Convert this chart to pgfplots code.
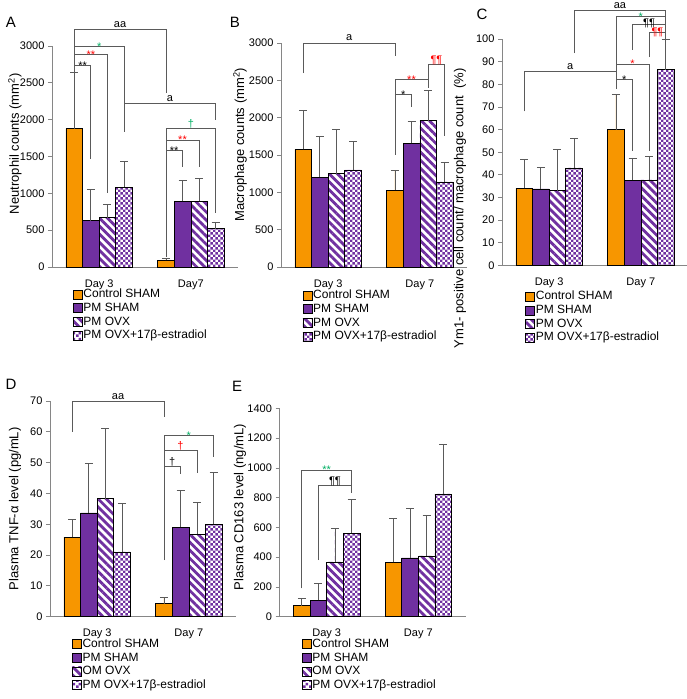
\documentclass[border=0pt]{standalone}
\usepackage{fontspec}
\setmainfont{Liberation Sans}
\usepackage{pgfplots}
\pgfplotsset{compat=1.18}
\usetikzlibrary{patterns,patterns.meta,calc}
\definecolor{orangec}{RGB}{247,150,0}
\definecolor{purplec}{RGB}{112,48,160}
\definecolor{axgray}{RGB}{134,134,134}
\definecolor{brkgray}{RGB}{90,90,90}
\definecolor{sgreen}{RGB}{0,176,100}
\definecolor{sred}{RGB}{255,0,0}
\tikzdeclarepattern{name=bigchecker, type=uncolored, bounding box={(0pt,0pt) and (5.4pt,5.4pt)}, tile size={(5.4pt,5.4pt)}, code={\fill (0pt,0pt) rectangle (2.7pt,2.7pt); \fill (2.7pt,2.7pt) rectangle (5.4pt,5.4pt);}}
\pgfplotsset{
 ybar legend/.style={/pgfplots/legend image code/.code={\draw[##1, line width=0.6pt] (0pt,-4.5pt) rectangle (9pt,4.5pt);}},
 panel/.style={
  scale only axis, width=186pt,
  xmin=0.485, xmax=2.515, ymin=0,
  axis x line*=bottom, axis y line*=left,
  axis line style={-, draw=axgray, line width=0.8pt},
  xtick={1,2}, xtick style={draw=none},
  ytick style={draw=axgray, line width=0.8pt},
  tick align=outside, major tick length=4pt,
  ybar=0pt, bar width=16.6pt,
  clip=false,
  tick label style={font=\fontsize{11}{13}\selectfont},
  /pgf/number format/assume math mode=true,
  /pgf/number format/1000 sep={},
  xticklabel style={yshift=-5pt},
  ylabel style={font=\fontsize{13}{15}\selectfont},
  legend style={draw=none, fill=none, font=\fontsize{12}{14}\selectfont, anchor=north west, inner sep=0pt, row sep=1.2pt, nodes={inner xsep=1pt, inner ysep=0.5pt, text height=9pt, text depth=2.5pt}},
  legend cell align=left,
  error bars/y dir=plus, error bars/y explicit,
  error bars/error bar style={draw=brkgray, line width=0.8pt},
  error bars/error mark options={rotate=90, mark size=4pt, draw=brkgray, line width=0.8pt},
 },
 s0/.style={fill=orangec, draw=black, line width=0.6pt},
 s1/.style={fill=purplec, draw=black, line width=0.6pt},
 s2/.style={draw=black, line width=0.6pt, pattern={Lines[angle=-45,distance=5.7pt,line width=2.8pt]}, pattern color=purplec},
 s3/.style={draw=black, line width=0.6pt, pattern=bigchecker, pattern color=purplec},
}
\newcommand{\brk}[8][2pt]{%
 \draw[brkgray, line width=0.8pt] (axis cs:#2,#3) |- (axis cs:#5,#4) -- (axis cs:#5,#6);
 \node[text=#8, font=\fontsize{11}{13}\selectfont, anchor=base, inner sep=0pt, yshift=#1] at ($(axis cs:#2,#4)!0.5!(axis cs:#5,#4)$) {#7};}
\begin{document}
\begin{tikzpicture}
\useasboundingbox (0,0) rectangle (687pt,699pt);
\fill[white] (0,0) rectangle (687pt,699pt);
% ---------------- A
\begin{axis}[panel, at={(52pt,432pt)}, anchor=south west, height=221pt, ymax=3000, ytick={0,500,...,3000},
 xticklabels={Day 3,Day7}, ylabel={Neutrophil counts (mm\textsuperscript{2})},
 ylabel style={at={(axis description cs:-0.199,0.557)}, anchor=center},
 legend style={at={(axis description cs:0.111,-0.095)}}]
\addplot[s0] coordinates {(1,1880) +- (0,760) (2,90) +- (0,30)};
\addplot[s1] coordinates {(1,630) +- (0,420) (2,890) +- (0,280)};
\addplot[s2] coordinates {(1,670) +- (0,180) (2,890) +- (0,310)};
\addplot[s3] coordinates {(1,1080) +- (0,350) (2,520) +- (0,80)};
\legend{Control SHAM, PM SHAM, PM OVX, PM OVX+17β-estradiol}
\brk{0.7282}{2990}{3227}{1.7282}{2360}{aa}{black}
\brk[-4pt]{0.7282}{2733}{2990}{1.2718}{1835}{*}{sgreen}
\brk[-4pt]{0.7282}{2733}{2891}{1.0906}{1000}{**}{sred}
\brk[-4pt]{0.7282}{2650}{2733}{0.9094}{1460}{**}{black}
\brk{1.2718}{1835}{2222}{2.2718}{1995}{a}{black}
\brk[1pt]{1.7282}{140}{1883}{2.2718}{729}{†}{sgreen}
\brk[-4pt]{1.7282}{1579}{1724}{2.0906}{1362}{**}{sred}
\brk[-4pt]{1.7282}{1362}{1579}{1.9094}{1362}{**}{black}
\end{axis}
% ---------------- B
\begin{axis}[panel, at={(281pt,432pt)}, anchor=south west, height=224pt, ymax=3000, ytick={0,500,...,3000},
 xticklabels={Day 3,Day 7}, ylabel={Macrophage counts (mm\textsuperscript{2})},
 ylabel style={at={(axis description cs:-0.220,0.545)}, anchor=center},
 legend style={at={(axis description cs:0.115,-0.098)}}]
\addplot[s0] coordinates {(1,1575) +- (0,520) (2,1030) +- (0,260)};
\addplot[s1] coordinates {(1,1205) +- (0,540) (2,1655) +- (0,290)};
\addplot[s2] coordinates {(1,1250) +- (0,590) (2,1960) +- (0,405)};
\addplot[s3] coordinates {(1,1300) +- (0,385) (2,1140) +- (0,260)};
\legend{Control SHAM, PM SHAM, PM OVX, PM OVX+17β-estradiol}
\brk{0.7282}{2597}{3000}{1.7282}{2820}{a}{black}
\brk[-4pt]{1.7282}{1500}{2516}{2.0906}{2400}{**}{sred}
\brk[-4pt]{1.7282}{2306}{2306}{1.9094}{2140}{*}{black}
\brk[1pt]{2.0906}{2516}{2718}{2.2718}{1755}{¶¶}{sred}
\end{axis}
% ---------------- C
\begin{axis}[panel, at={(502pt,433.5pt)}, anchor=south west, height=226.5pt, ymax=100, ytick={0,10,...,100},
 xticklabels={Day 3,Day 7}, ylabel={Ym1- positive cell count/ macrophage count\ \ (\%)},
 ylabel style={at={(axis description cs:-0.226,0.885)}, anchor=east},
 legend style={at={(axis description cs:0.124,-0.109)}}]
\addplot[s0] coordinates {(1,34.1) +- (0,12.8) (2,60) +- (0,15.4)};
\addplot[s1] coordinates {(1,33.8) +- (0,9.5) (2,37.7) +- (0,9.8)};
\addplot[s2] coordinates {(1,33.1) +- (0,18.2) (2,37.8) +- (0,10.5)};
\addplot[s3] coordinates {(1,43.1) +- (0,12.9) (2,86.5) +- (0,13.5)};
\legend{Control SHAM, PM SHAM, PM OVX, PM OVX+17β-estradiol}
\brk{0.7282}{68}{85.7}{1.7282}{77.9}{a}{black}
\brk[-4pt]{1.7282}{77.9}{82}{1.9094}{50.4}{*}{black}
\brk[-4pt]{1.7282}{82}{89}{2.0906}{50.4}{*}{sred}
\brk{1.2718}{93.8}{112.5}{2.2718}{110}{aa}{black}
\brk[-4pt]{1.7282}{89}{110}{2.2718}{106.3}{*}{sgreen}
\brk[-2pt]{1.9094}{95.3}{106.3}{2.2718}{102.7}{¶¶}{black}
\brk[-3pt]{2.0906}{92}{102.7}{2.2718}{100}{¶¶}{sred}
\end{axis}
% ---------------- D
\begin{axis}[panel, at={(50pt,82.3pt)}, anchor=south west, height=215.7pt, ymax=70, ytick={0,10,...,70},
 xticklabels={Day 3,Day 7}, ylabel={Plasma TNF-α level (pg/mL)},
 ylabel style={at={(axis description cs:-0.188,0.5)}, anchor=center},
 legend style={at={(axis description cs:0.117,-0.097)}}]
\addplot[s0] coordinates {(1,25.8) +- (0,5.9) (2,4.2) +- (0,2.1)};
\addplot[s1] coordinates {(1,33.7) +- (0,16.1) (2,29) +- (0,12)};
\addplot[s2] coordinates {(1,38.3) +- (0,22.9) (2,26.8) +- (0,10.3)};
\addplot[s3] coordinates {(1,21) +- (0,15.9) (2,30) +- (0,16.9)};
\legend{Control SHAM, PM SHAM, OM OVX, PM OVX+17β-estradiol}
\brk{0.7282}{60}{69.8}{1.7282}{64.9}{aa}{black}
\brk[-4pt]{1.7282}{18.4}{58.7}{2.2718}{51.7}{*}{sgreen}
\brk[1pt]{1.7282}{48.7}{53.9}{2.0906}{46.7}{†}{sred}
\brk[1pt]{1.7282}{46.3}{48.7}{1.9094}{46.3}{†}{black}
\end{axis}
% ---------------- E
\begin{axis}[panel, at={(279.5pt,82.3pt)}, anchor=south west, height=208.3pt, ymax=1400, ytick={0,200,...,1400},
 xticklabels={Day 3,Day 7}, ylabel={Plasma CD163 level (ng/mL)},
 ylabel style={at={(axis description cs:-0.212,0.527)}, anchor=center},
 legend style={at={(axis description cs:0.119,-0.101)}}]
\addplot[s0] coordinates {(1,75) +- (0,50) (2,365) +- (0,295)};
\addplot[s1] coordinates {(1,110) +- (0,112) (2,395) +- (0,335)};
\addplot[s2] coordinates {(1,368) +- (0,227) (2,408) +- (0,275)};
\addplot[s3] coordinates {(1,562) +- (0,228) (2,826) +- (0,332)};
\legend{Control SHAM, PM SHAM, OM OVX, PM OVX+17β-estradiol}
\brk[-4pt]{0.7282}{190}{986}{1.2718}{829}{**}{sgreen}
\brk[1pt]{0.9094}{381}{885}{1.2718}{829}{¶¶}{black}
\end{axis}
% panel letters
\node[font=\fontsize{15}{18}\selectfont] at (11pt,677pt) {A};
\node[font=\fontsize{15}{18}\selectfont] at (235pt,677pt) {B};
\node[font=\fontsize{15}{18}\selectfont] at (482pt,685pt) {C};
\node[font=\fontsize{15}{18}\selectfont] at (11pt,315pt) {D};
\node[font=\fontsize{15}{18}\selectfont] at (237pt,313pt) {E};
\end{tikzpicture}
\end{document}
